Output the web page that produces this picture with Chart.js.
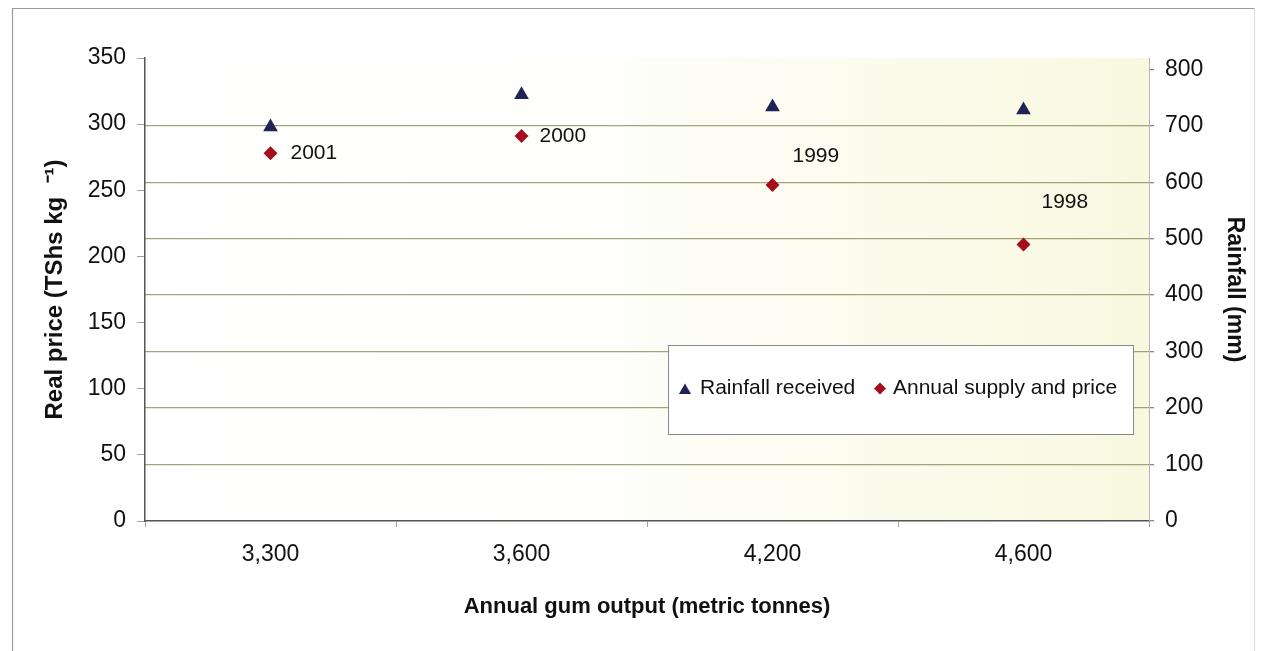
<!DOCTYPE html>
<html>
<head>
<meta charset="utf-8">
<title>Gum output, price and rainfall</title>
<script src="https://cdn.jsdelivr.net/npm/chart.js@4.4.1/dist/chart.umd.min.js"></script>
<style>
html,body{margin:0;padding:0;background:#ffffff;}
#wrap{width:1261px;height:651px;position:relative;}
</style>
</head>
<body>
<div id="wrap"><canvas id="gumChart" width="1261" height="651"></canvas></div>
<script>

// annual gum output (metric tonnes)
let outputLabels=["3,300","3,600","4,200","4,600"];
// year of each observation
let years=["2001","2000","1999","1998"];
// rainfall received (mm)
let rainfall=[698,755,733,728];
// real price (TShs per kg)
let realPrice=[278,291,254,209];

let priceTicks=[0,50,100,150,200,250,300,350];
let rainTicks=[0,100,200,300,400,500,600,700,800];

let FONT="'Liberation Sans', Arial, sans-serif";

Chart.defaults.font.family=FONT;
Chart.defaults.color="#111";

// pale yellow wash behind the plot plus the thin outer frame
const backdropPlugin={
id:"backdrop",
beforeDraw(chart){
const {ctx,chartArea:a}=chart;
ctx.save();
let g=ctx.createLinearGradient(a.left,0,a.right,0);
g.addColorStop(0,"#ffffff");
g.addColorStop(0.45,"#fefefb");
g.addColorStop(0.75,"#fbfbec");
g.addColorStop(1,"#f8f8e0");
ctx.fillStyle=g;
ctx.fillRect(a.left,a.top,a.right-a.left,a.bottom-a.top);

ctx.strokeStyle="#9a9a9a";
ctx.lineWidth=1.2;
ctx.beginPath();
ctx.moveTo(12.5,651);
ctx.lineTo(12.5,8.5);
ctx.lineTo(1254.5,8.5);
ctx.stroke();
ctx.strokeStyle="#dddddd";
ctx.beginPath();
ctx.moveTo(1254.5,8.5);
ctx.lineTo(1254.5,651);
ctx.stroke();
ctx.restore();
}
};

// year labels beside the price markers
const yearLabelPlugin={
id:"yearLabels",
afterDatasetsDraw(chart){
const {ctx}=chart;
let meta=chart.getDatasetMeta(1);
let shift=[[20,0],[18,0],[20,-29],[18,-42]];
ctx.save();
ctx.font="21px "+FONT;
ctx.fillStyle="#111";
ctx.textAlign="left";
ctx.textBaseline="middle";
meta.data.forEach((pt,i)=>{
ctx.fillText(years[i],pt.x+shift[i][0],pt.y+shift[i][1]);
});
ctx.restore();
}
};

// boxed legend sitting inside the plot, lower right
const boxLegendPlugin={
id:"boxLegend",
afterDatasetsDraw(chart){
const {ctx,chartArea:a}=chart;
let w=465,h=89;
let x=a.right-16-w;
let y=a.bottom-87-h;
ctx.save();
ctx.fillStyle="#ffffff";
ctx.fillRect(x,y,w,h);
ctx.strokeStyle="#8a8a8a";
ctx.lineWidth=1;
ctx.strokeRect(x+0.5,y+0.5,w,h);

let cy=y+h/2-1;
let items=[
{ds:chart.data.datasets[0],mx:x+17,tx:x+32,r:7},
{ds:chart.data.datasets[1],mx:x+212,tx:x+225,r:6}
];
ctx.font="21px "+FONT;
ctx.textBaseline="middle";
ctx.textAlign="left";
items.forEach(it=>{
ctx.fillStyle=it.ds.backgroundColor;
ctx.strokeStyle=it.ds.borderColor;
Chart.helpers.drawPoint(ctx,{pointStyle:it.ds.pointStyle,radius:it.r,rotation:0,borderWidth:0},it.mx,cy+(it.ds.pointStyle==="triangle"?2:0));
ctx.fillStyle="#111";
ctx.fillText(it.ds.label,it.tx,cy);
});
ctx.restore();
}
};

new Chart(document.getElementById("gumChart"),{
type:"line",
data:{
labels:outputLabels,
datasets:[
{
label:"Rainfall received",
data:rainfall,
yAxisID:"y1",
showLine:false,
pointStyle:"triangle",
pointRadius:8.5,
pointHoverRadius:8.5,
backgroundColor:"#1f2356",
borderColor:"#1f2356",
pointBorderWidth:0
},
{
label:"Annual supply and price",
data:realPrice,
yAxisID:"y",
showLine:false,
pointStyle:"rectRot",
pointRadius:7,
pointHoverRadius:7,
backgroundColor:"#a50d1c",
borderColor:"#a50d1c",
pointBorderWidth:0
}
]
},
options:{
responsive:false,
animation:false,
layout:{padding:{top:58,left:0,right:0,bottom:0}},
plugins:{
legend:{display:false},
tooltip:{enabled:false}
},
scales:{
x:{
type:"category",
offset:true,
afterFit(s){s.height=130;},
grid:{
offset:true,
drawOnChartArea:false,
tickLength:6,
color:"#a0a0a0"
},
border:{color:"#555",width:1.5},
ticks:{
font:{size:23},
color:"#111",
padding:14
},
title:{
display:true,
text:"Annual gum output (metric tonnes)",
font:{size:22,weight:"bold"},
color:"#111",
padding:{top:0,bottom:31}
}
},
y:{
position:"left",
min:0,
max:350,
afterFit(s){s.width=145;},
afterBuildTicks(s){s.ticks=priceTicks.map(v=>({value:v}));},
grid:{
drawOnChartArea:false,
tickLength:8,
color:"#a0a0a0"
},
border:{color:"#555",width:1.5},
ticks:{
font:{size:23},
color:"#111",
padding:11
},
title:{
display:true,
text:"Real price (TShs kg  \u207B\u00B9)",
font:{size:24,weight:"bold"},
color:"#111",
padding:{top:41,bottom:0}
}
},
y1:{
position:"right",
min:0,
max:820,
afterFit(s){s.width=112;},
afterBuildTicks(s){s.ticks=rainTicks.map(v=>({value:v}));},
grid:{
drawOnChartArea:true,
tickLength:5,
lineWidth:1.3,
color:c=>(c.tick && c.tick.value>0 && c.tick.value<800)?"rgba(140,140,95,0.8)":"rgba(0,0,0,0)",
tickColor:"#888"
},
border:{color:"#b5b5b5",width:1},
ticks:{
font:{size:23},
color:"#111",
padding:11
},
title:{
display:true,
text:"Rainfall (mm)",
font:{size:23,weight:"bold"},
color:"#111",
padding:{top:13,bottom:0}
}
}
}
},
plugins:[backdropPlugin,yearLabelPlugin,boxLegendPlugin]
});

</script>
</body>
</html>
